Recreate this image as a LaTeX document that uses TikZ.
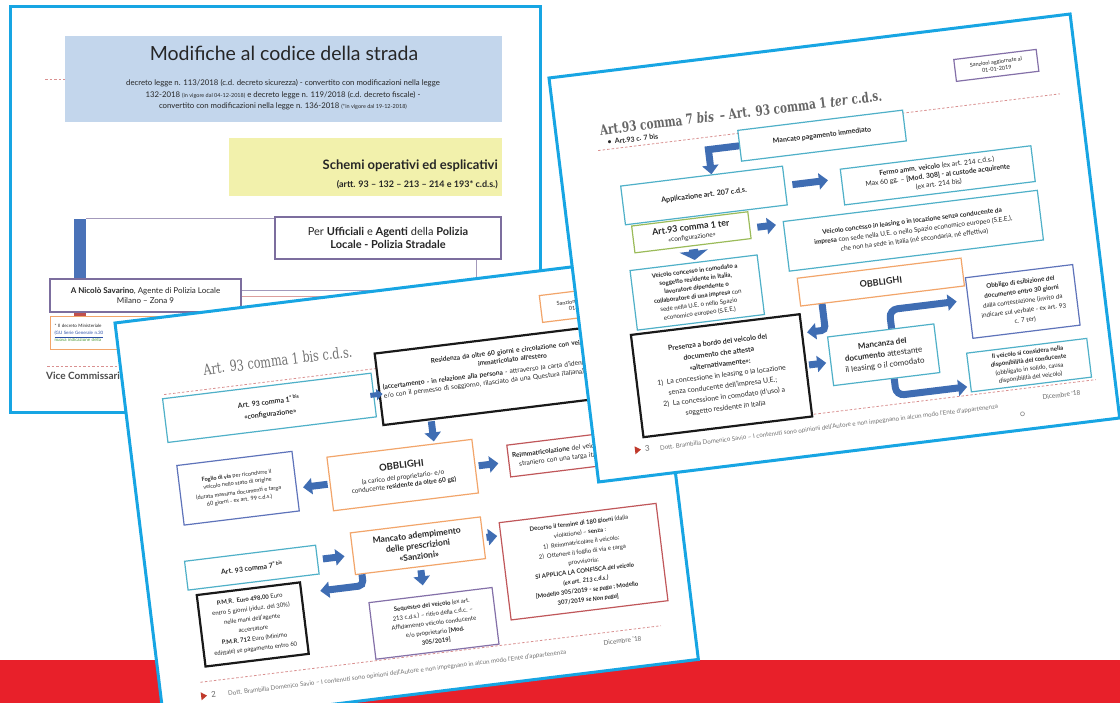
\documentclass[tikz,border=0pt]{standalone}
\usepackage{fontspec}
\setmainfont{Lato}
\newfontfamily\slabfont[FakeStretch=0.75]{DejaVu Serif}
\usetikzlibrary{arrows.meta,calc}
\newcommand\fsz[2]{\fontsize{#1}{#2}\selectfont}

\definecolor{slideedge}{HTML}{17A5E3}
\definecolor{banner}{HTML}{E8202A}
\definecolor{hdrblue}{HTML}{C3D6EC}
\definecolor{hdryellow}{HTML}{F2F1AC}
\definecolor{frameviolet}{HTML}{7C6E9E}
\definecolor{boxaqua}{HTML}{4FB0C8}
\definecolor{boxorange}{HTML}{F2A56A}
\definecolor{boxred}{HTML}{C0575A}
\definecolor{boxgreen}{HTML}{9BBB59}
\definecolor{boxviolet}{HTML}{8470A8}
\definecolor{boxblue}{HTML}{5E73BA}
\definecolor{arrowblue}{HTML}{3F6DB3}
\definecolor{dashred}{HTML}{D99090}
\definecolor{barblue}{HTML}{4A72B8}
\definecolor{barred}{HTML}{C0504D}
\definecolor{linkblue}{HTML}{2A4FA8}
\definecolor{notegreen}{HTML}{4E9A3A}
\definecolor{footred}{HTML}{C0392B}

\tikzset{
  slide/.style={draw=slideedge, line width=3pt, fill=white},
  plainbox/.style={draw, fill=white, line width=1.2pt, inner sep=1.5pt, align=center, text=black!85},
  aquabox/.style={plainbox, draw=boxaqua},
  orangebox/.style={plainbox, draw=boxorange},
  redbox/.style={plainbox, draw=boxred},
  greenbox/.style={plainbox, draw=boxgreen},
  violetbox/.style={plainbox, draw=boxviolet},
  bluebox/.style={plainbox, draw=boxblue},
  framebox/.style={plainbox, draw=frameviolet},
  blackbox/.style={plainbox, draw=black!90, line width=2.2pt},
  blockarrow/.style={draw=arrowblue, line width=7pt, -{Triangle[length=9pt 0, width=16pt 0]}},
  smallarrow/.style={draw=arrowblue, line width=5pt, -{Triangle[length=6pt 0, width=11pt 0]}},
  widearrow/.style={draw=arrowblue, line width=9pt, -{Triangle[length=9pt 0, width=28pt 0]}},
  dashrule/.style={draw=dashred, line width=0.8pt, dash pattern=on 2.5pt off 2pt},
  frameline/.style={draw=frameviolet!70, line width=1pt},
  slidetitle/.style={font={\slabfont\fsz{15}{18}}, text=black!55},
  footertext/.style={anchor=west, font={\fsz{6.2}{7}}, text=black!55},
  datetext/.style={font={\fsz{6.5}{8}}, text=black!60},
}

\begin{document}
\begin{tikzpicture}[x=1pt, y=-1pt, inner sep=1pt]
\useasboundingbox (0,0) rectangle (1120,703);
\clip (0,0) rectangle (1120,703);
\fill[white] (0,0) rectangle (1120,703);
% red band along the bottom
\fill[banner] (0,660) rectangle (1120,703);

% ---------------- title slide ----------------
\path[slide] (10,7) rectangle (540,413);
\draw[dashrule] (45,79) -- (500,79);
\node[fill=hdrblue, minimum width=437pt, minimum height=86pt] (s1hdr) at (283.5,79) {};
\node[font={\fsz{19.5}{23}}, text=black!85] (s1title) at (284,53) {Modifiche al codice della strada};
\node[font={\fsz{7.8}{9}}, text=black!85] (s1la) at (283,83)
  {decreto legge n. 113/2018 (c.d. decreto sicurezza) - convertito con modificazioni nella legge};
\node[font={\fsz{7.8}{9}}, text=black!85] (s1lb) at (283,95)
  {132-2018 {\fsz{5.5}{6}(in vigore dal 04-12-2018)} e decreto legge n. 119/2018 (c.d. decreto fiscale) -};
\node[font={\fsz{7.8}{9}}, text=black!85] (s1lc) at (283,106.5)
  {convertito con modificazioni nella legge n. 136-2018 {\fsz{5.5}{6}(*in vigore dal 19-12-2018)}};

\node[fill=hdryellow, minimum width=273pt, minimum height=58pt] (s1yel) at (365.5,167) {};
\node[anchor=east, font={\bfseries\fsz{13}{15}}, text=black!85] (s1sch) at (499,166) {Schemi operativi ed esplicativi};
\node[anchor=east, font={\bfseries\fsz{9}{11}}, text=black!85] (s1art) at (499,184.5) {(artt. 93 – 132 – 213 – 214 e 193* c.d.s.)};

\fill[barblue] (74,219) rectangle (86,300);
\fill[barred] (74,300) rectangle (86,318);
\draw[frameline] (86,219) -- (502,219);
\draw[frameline] (476,259) -- (476,291) -- (241,291);
\draw[frameline, draw=barred!55] (241,297) -- (560,297);

\node[framebox, minimum width=226pt, minimum height=42pt, font={\fsz{11}{13.5}}] (s1per) at (388,238)
  {Per \textbf{Ufficiali} e \textbf{Agenti} della \textbf{Polizia}\\\textbf{Locale - Polizia Stradale}};
\node[framebox, minimum width=191pt, minimum height=33pt, font={\fsz{8}{10}}] (s1auth) at (145.5,295.5)
  {\textbf{A Nicolò Savarino}, Agente di Polizia Locale\\Milano – Zona 9};
\node[orangebox, anchor=north west, minimum width=280pt, minimum height=33pt, text width=272pt, align=left,
      font={\fsz{4.5}{7}}] (s1note) at (50,316)
  {* Il decreto Ministeriale\\{\color{linkblue}\underline{(GU Serie Generale n.30}}\\{\color{notegreen}nuova indicazione della}};
\draw[dashrule] (47,366) -- (330,366);
\node[anchor=west, font={\bfseries\fsz{10}{12}}, text=black!70] (s1vice) at (45,376) {Vice Commissario};

% ---------------- slide 2: art. 93 comma 1 bis ----------------
\begin{scope}[shift={(115,323)}, rotate=7, transform shape]
  \path[slide] (0,0) rectangle (538,405);
  \draw[dashrule] (40,77) -- (525,77);
  \draw[dashrule] (41,367) -- (505,367);
  \node[orangebox, minimum width=85pt, minimum height=27pt, font={\fsz{5.5}{6.5}}] (s2sanz) at (467,38)
    {Sanzioni aggiornate al\\01-01-2019};
  \node[slidetitle] (s2title) at (157,57) {Art. 93 comma 1 bis c.d.s.};

  \node[aquabox, minimum width=210pt, minimum height=44pt, font={\fsz{7}{12}}] (s2cfg) at (143,103)
    {\textbf{Art. 93 comma 1\textsuperscript{° bis}}\\\textbf{«configurazione»}};
  \node[blackbox, minimum width=272pt, minimum height=72pt, text width=264pt, align=left, font={\fsz{6.6}{8.6}}] (s2res) at (390,98)
    {{\centering\textbf{Residenza da oltre 60 giorni e circolazione con veicolo}\\\textbf{immatricolato all'estero}\par}\vspace{3pt}%
     \textbf{(accertamento - in relazione alla persona} - attraverso la carta d'identità\\e/o con il permesso di soggiorno, rilasciato da una Questura italiana)\par\vspace{14pt}};

  \node[orangebox, minimum width=146pt, minimum height=54pt, font={\fsz{6.5}{8}}] (s2obb) at (267,186)
    {{\fsz{9.5}{11}\textbf{OBBLIGHI}}\\[3pt](a carico del proprietario- e/o\\conducente \textbf{residente da oltre 60 gg)}};
  \node[bluebox, minimum width=116pt, minimum height=60pt, font={\fsz{5.6}{7.6}}] (s2fog) at (102,179)
    {\textbf{Foglio di via} per ricondurre il\\veicolo nello stato di origine\\[2pt](durata massima documenti e targa\\60 giorni - ex art. 99 c.d.s.)};
  \node[redbox, minimum width=166pt, minimum height=32pt, text width=158pt, align=left, font={\fsz{6.6}{9}}] (s2reim) at (457,185)
    {\textbf{Reimmatricolazione} del veicolo\\\hspace*{6pt}straniero con una targa italiana};

  \node[orangebox, minimum width=131pt, minimum height=42pt, font={\bfseries\fsz{8.6}{10.5}}] (s2manc) at (273.5,258)
    {Mancato adempimento\\delle prescrizioni\\«Sanzioni»};
  \node[aquabox, minimum width=132pt, minimum height=29pt, font={\fsz{7}{9}}] (s2c7) at (106,259.5)
    {\textbf{Art. 93 comma 7\textsuperscript{° bis}}};
  \node[blackbox, minimum width=104pt, minimum height=72pt, font={\fsz{6}{10}}] (s2pmr) at (100,316)
    {\textbf{P.M.R.\ \ Euro 498,00} Euro\\entro 5 giorni (riduz. del 30\%)\\nelle mani dell'agente\\accertatore\\\textbf{P.M.R. 712} Euro (Minimo\\edittale) se pagamento entro 60};
  \node[violetbox, minimum width=124pt, minimum height=57pt, font={\fsz{6}{9.2}}] (s2seq) at (280,337)
    {\textbf{Sequestro del veicolo} (ex art.\\213 c.d.s.) – ritiro della c.d.c. –\\Affidamento veicolo conducente\\e/o proprietario \textbf{[Mod.}\\\textbf{305/2019]}};
  \node[redbox, minimum width=158pt, minimum height=98pt, font={\fsz{6}{9.6}}] (s2dec) at (436,294)
    {\textbf{Decorso il termine di 180 giorni} (dalla\\violazione) – \textbf{senza} :\\1)\ \ Reimmatricolare il veicolo;\\2)\ \ Ottenere il foglio di via e targa\\provvisoria;\\\textbf{SI APPLICA LA CONFISCA \textit{del veicolo}}\\\textbf{\textit{(ex art. 213 c.d.s.)}}\\\textbf{[Modello 305/2019 - \textit{se paga} ; Modello}\\\textbf{307/2019 \textit{se Non paga}]}};

  \draw[smallarrow, shorten <=-4pt, shorten >=-4pt] (s2cfg.east) -- (s2cfg.east -| s2res.west);
  \draw[blockarrow, shorten <=1pt, shorten >=2pt] ([xshift=35pt]s2obb.north |- s2res.south) -- ([xshift=35pt]s2obb.north);
  \draw[blockarrow, shorten <=2pt, shorten >=6pt] (s2obb.west) -- (s2obb.west -| s2fog.east);
  \draw[blockarrow, shorten <=3pt, shorten >=10pt] (s2obb.east) -- (s2obb.east -| s2reim.west);
  \draw[blockarrow, shorten <=5pt, shorten >=8pt] (s2c7.east) -- (s2c7.east -| s2manc.west);
  \draw[blockarrow, shorten <=3pt, shorten >=3pt] (s2manc.east) -- (s2manc.east -| s2dec.west);
  \draw[blockarrow, shorten <=3pt, shorten >=10pt] (s2manc.south) -- (s2manc.south |- s2seq.north);
  \draw[blockarrow, rounded corners=5pt] ([xshift=-59pt]s2manc.south) |- ([xshift=18pt,yshift=-12pt]s2pmr.north east);

  \node[datetext] (s2date) at (465,377) {Dicembre '18};
  \fill[footred] (40,377) -- (46,381) -- (40,385) -- cycle;
  \node[anchor=west, font={\fsz{8}{9}}, text=black!60] (s2num) at (49,381) {2};
  \node[footertext] (s2foot) at (66,382) {Dott. Brambilla Domenico Savio – I contenuti sono opinioni dell'Autore e non impegnano in alcun modo l'Ente d'appartenenza};
\end{scope}

% ---------------- slide 3: art. 93 comma 7 bis / 1 ter ----------------
\begin{scope}[shift={(549,78)}, rotate=7, transform shape]
  \path[slide] (0,0) rectangle (525,407);
  \draw[dashrule] (40,78) -- (505,78);
  \draw[dashrule] (60,366) -- (506,366);
  \node[violetbox, minimum width=83pt, minimum height=22pt, font={\fsz{5.5}{7}}] (s3sanz) at (445.5,42)
    {Sanzioni aggiornate al\\01-01-2019};
  \node[anchor=west, font={\slabfont\bfseries\fsz{14}{16}}, text=black!60] (s3title) at (43,58)
    {Art.93 comma 7 \textit{bis}\, – Art. 93 comma 1 \textit{ter} c.d.s.};
  \node[anchor=west, font={\bfseries\fsz{7}{8}}, text=black!85] (s3bul) at (49,71) {•\ \ Art.93 c. 7 bis};

  \node[aquabox, minimum width=166pt, minimum height=31pt, font={\bfseries\fsz{7}{8}}] (s3mp) at (264,90.5)
    {Mancato pagamento immediato};
  \node[aquabox, minimum width=163pt, minimum height=39pt, font={\bfseries\fsz{7.2}{8}}] (s3app) at (139.5,135.5)
    {Applicazione art. 207 c.d.s.};
  \node[aquabox, minimum width=192pt, minimum height=36pt, font={\fsz{6.8}{9}}] (s3fer) at (374,144)
    {\textbf{Fermo amm. veicolo} (ex art. 214 c.d.s.)\\Max 60 gg. – \textbf{[Mod. 308] - al custode acquirente}\\(ex art. 214 bis)};
  \node[greenbox, minimum width=117pt, minimum height=27pt, font={\fsz{6.5}{9}}] (s3ter) at (122.5,170.5)
    {{\fsz{9}{10}\textbf{Art.93 comma 1 ter}}\\«configurazione»};
  \node[aquabox, minimum width=256pt, minimum height=50pt, font={\fsz{6.5}{9.5}}] (s3lea) at (343,196)
    {\textbf{Veicolo concesso in leasing o in locazione senza conducente da}\\\textbf{impresa} con sede nella U.E. o nello Spazio economico europeo (S.E.E.),\\che non ha sede in Italia (né secondaria, né effettiva)};
  \node[aquabox, minimum width=128pt, minimum height=60pt, font={\fsz{6.1}{8.6}}] (s3com) at (121,231)
    {\textbf{Veicolo concesso in comodato a}\\\textbf{soggetto residente in Italia,}\\\textbf{lavoratore dipendente o}\\\textbf{collaboratore di una impresa} con\\sede nella U.E. o nello Spazio\\economico europeo (S.E.E.)};
  \node[orangebox, minimum width=165pt, minimum height=28pt, font={\bfseries\fsz{9}{10}}] (s3obb) at (304.5,243)
    {OBBLIGHI};
  \node[blackbox, minimum width=170pt, minimum height=103pt, font={\fsz{7}{11}}] (s3pres) at (135,316.5)
    {\textbf{Presenza a bordo del veicolo del}\\\textbf{documento che attesta}\\\textbf{«alternativamente»:}\\1)\ \ La concessione in leasing o la locazione\\senza conducente dell'impresa U.E.;\\2)\ \ La concessione in comodato (d'uso) a\\soggetto residente in Italia};
  \node[aquabox, minimum width=107pt, minimum height=49pt, font={\fsz{8}{11}}] (s3mcz) at (298.5,315.5)
    {\textbf{Mancanza del}\\\textbf{documento} attestante\\il leasing o il comodato};
  \node[bluebox, minimum width=108pt, minimum height=61pt, font={\fsz{6.3}{9.6}}] (s3obl) at (443,279.5)
    {\textbf{Obbligo di esibizione del}\\\textbf{documento entro 30 giorni}\\dalla contestazione (invito da\\indicare sul verbale - ex art. 93\\c. 7 ter)};
  \node[aquabox, minimum width=121pt, minimum height=39pt, font={\fsz{6.1}{8.4}}] (s3vd) at (441.5,343.5)
    {\textbf{Il veicolo si considera nella}\\\textbf{disponibilità del conducente}\\(obbligato in solido, causa\\disponibilità del veicolo)};

  \draw[blockarrow] (s3mp.west) -| ([xshift=10pt]s3app.north);
  \draw[blockarrow, shorten <=7pt, shorten >=13pt] (s3app.east) -- (s3app.east -| s3fer.west);
  \draw[blockarrow, shorten <=7pt, shorten >=7pt] ([yshift=-3pt]s3ter.east) -- ([yshift=-3pt]s3ter.east -| s3lea.west);
  \draw[widearrow, shorten <=3pt, shorten >=2pt] (s3ter.south) -- (s3ter.south |- s3com.north);
  \draw[blockarrow, rounded corners=4pt] ([xshift=-61pt]s3obb.south) |- ([xshift=4pt,yshift=-20pt]s3pres.north east);
  \draw[blockarrow, shorten <=2pt, shorten >=4pt] (s3pres.east) -- (s3pres.east -| s3mcz.west);
  \draw[blockarrow, rounded corners=8pt] ([xshift=11pt]s3mcz.north) |- ([xshift=-11pt,yshift=8pt]s3obl.west);
  \draw[blockarrow, rounded corners=8pt] ([xshift=7.5pt]s3mcz.south) |- ([xshift=-3pt,yshift=-14pt]s3vd.west);

  \node[datetext] (s3date) at (470,377) {Dicembre '18};
  \draw[black!45, line width=0.6pt] (429,391) circle (2pt);
  \fill[footred] (40,376) -- (46,380) -- (40,384) -- cycle;
  \node[anchor=west, font={\fsz{8}{9}}, text=black!60] (s3num) at (49,380) {3};
  \node[footertext] (s3foot) at (64,381) {Dott. Brambilla Domenico Savio – I contenuti sono opinioni dell'Autore e non impegnano in alcun modo l'Ente d'appartenenza};
\end{scope}
\end{tikzpicture}
\end{document}
